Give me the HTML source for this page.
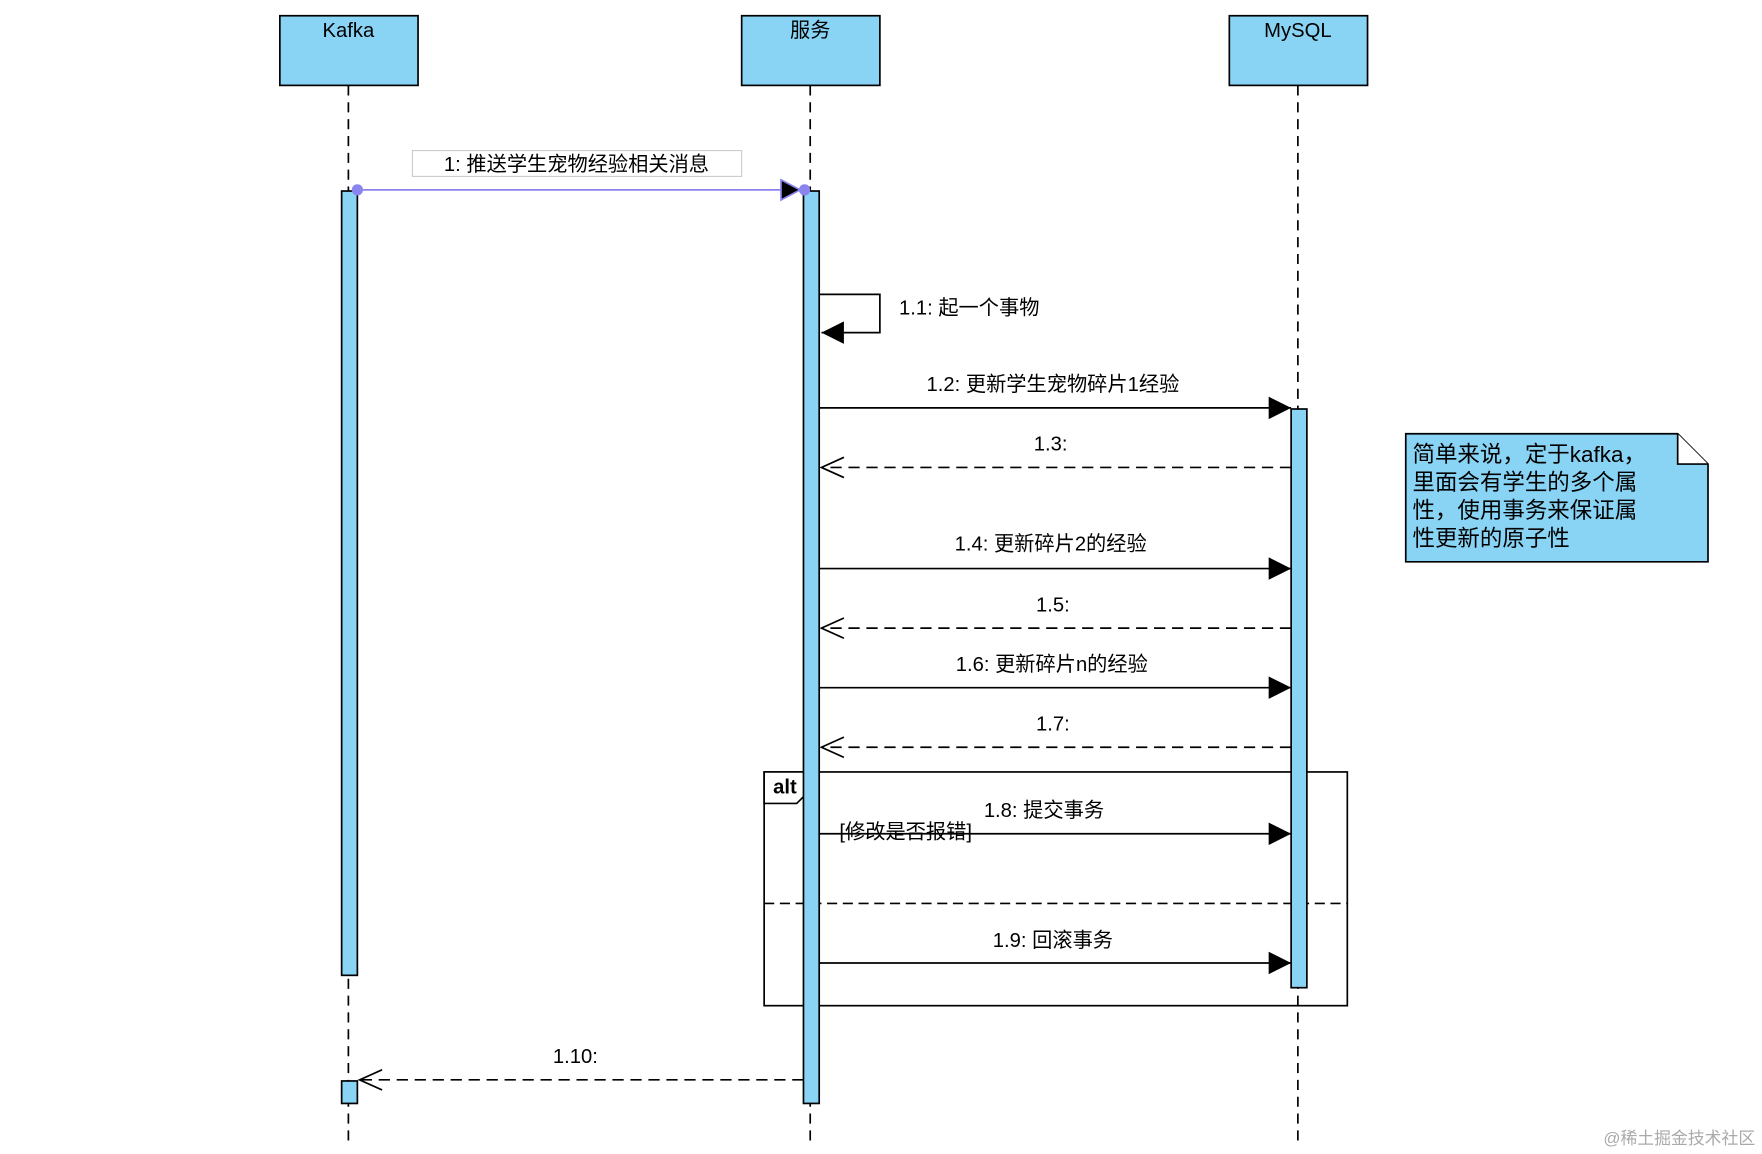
<!DOCTYPE html>
<html><head><meta charset="utf-8"><style>
html,body{margin:0;padding:0;background:#fff;}
svg{display:block;}
text{font-family:"Liberation Sans","Noto Sans CJK SC",sans-serif;fill:#000;}
</style></head><body>
<svg width="1762" height="1154" viewBox="0 0 1568 1027" xmlns="http://www.w3.org/2000/svg">
<defs>
<marker id="fa" markerWidth="22" markerHeight="22" refX="20" refY="10" orient="auto" markerUnits="userSpaceOnUse"><path d="M0,0 L20,10 L0,20 Z" fill="#000"/></marker>
<marker id="oa" markerWidth="24" markerHeight="22" refX="21" refY="10" orient="auto" markerUnits="userSpaceOnUse"><path d="M1,1 L21,10 L1,19" fill="none" stroke="#000" stroke-width="1.5"/></marker>
</defs>
<g stroke="#000" stroke-width="1.5" stroke-dasharray="9,6">
<line x1="310" y1="76" x2="310" y2="1018"/>
<line x1="721" y1="76" x2="721" y2="1018"/>
<line x1="1155" y1="76" x2="1155" y2="1018"/>
</g>
<g fill="#89d4f5" stroke="#000" stroke-width="1.5">
<rect x="249" y="14" width="123" height="62"/>
<rect x="660" y="14" width="123" height="62"/>
<rect x="1094" y="14" width="123" height="62"/>
</g>
<g font-size="18" text-anchor="middle">
<text x="310" y="33">Kafka</text>
<text x="721" y="33">服务</text>
<text x="1155" y="33">MySQL</text>
</g>
<rect x="680" y="687" width="519" height="208" fill="none" stroke="#000" stroke-width="1.5"/>
<line x1="680" y1="804" x2="1199" y2="804" stroke="#000" stroke-width="1.5" stroke-dasharray="9,5"/>
<path d="M680,687 L722,687 L722,702 L709,715 L680,715 Z" fill="#fff" stroke="#000" stroke-width="1.5"/>
<text x="688" y="706" font-size="18" font-weight="bold">alt</text>
<g fill="#89d4f5" stroke="#000" stroke-width="1.5">
<rect x="304" y="170" width="14" height="698"/>
<rect x="304" y="962" width="14" height="20"/>
<rect x="715" y="170" width="14" height="812"/>
<rect x="1149" y="364" width="14" height="515"/>
</g>
<rect x="367" y="134" width="293" height="23" fill="#fff" stroke="#ccc" stroke-width="1"/>
<text x="513" y="152" font-size="18" text-anchor="middle">1: 推送学生宠物经验相关消息</text>
<line x1="318" y1="169" x2="712" y2="169" stroke="#8a84ee" stroke-width="1.5"/>
<path d="M695,160 L712,169 L695,178 Z" fill="#000" stroke="#8a84ee" stroke-width="1.5"/>
<circle cx="318" cy="169" r="5" fill="#8a84ee"/>
<circle cx="716" cy="169" r="5" fill="#8a84ee"/>
<path d="M729,262 L783,262 L783,296 L731,296" fill="none" stroke="#000" stroke-width="1.5" marker-end="url(#fa)"/>
<text x="800" y="280" font-size="18">1.1: 起一个事物</text>
<g stroke="#000" stroke-width="1.5">
<line x1="729" y1="363" x2="1149" y2="363" marker-end="url(#fa)"/>
<line x1="1149" y1="416" x2="731" y2="416" stroke-dasharray="10,6" marker-end="url(#oa)"/>
<line x1="729" y1="506" x2="1149" y2="506" marker-end="url(#fa)"/>
<line x1="1149" y1="559" x2="731" y2="559" stroke-dasharray="10,6" marker-end="url(#oa)"/>
<line x1="729" y1="612" x2="1149" y2="612" marker-end="url(#fa)"/>
<line x1="1149" y1="665" x2="731" y2="665" stroke-dasharray="10,6" marker-end="url(#oa)"/>
<line x1="729" y1="742" x2="1149" y2="742" marker-end="url(#fa)"/>
<line x1="729" y1="857" x2="1149" y2="857" marker-end="url(#fa)"/>
<line x1="715" y1="961" x2="320" y2="961" stroke-dasharray="10,6" marker-end="url(#oa)"/>
</g>
<g font-size="18" text-anchor="middle">
<text x="937" y="348">1.2: 更新学生宠物碎片1经验</text>
<text x="935" y="401">1.3:</text>
<text x="935" y="490">1.4: 更新碎片2的经验</text>
<text x="937" y="544">1.5:</text>
<text x="936" y="597">1.6: 更新碎片n的经验</text>
<text x="937" y="650">1.7:</text>
<text x="929" y="727">1.8: 提交事务</text>
<text x="937" y="843">1.9: 回滚事务</text>
<text x="512" y="946">1.10:</text>
</g>
<text x="747" y="746" font-size="18">[修改是否报错]</text>
<path d="M1251,386 L1493,386 L1520,413 L1520,500 L1251,500 Z" fill="#89d4f5" stroke="#000" stroke-width="1.5"/>
<path d="M1493,386 L1493,413 L1520,413" fill="#fff" stroke="#000" stroke-width="1.5"/>
<g font-size="20">
<text x="1257" y="411">简单来说，定于kafka，</text>
<text x="1257" y="436">里面会有学生的多个属</text>
<text x="1257" y="461">性，使用事务来保证属</text>
<text x="1257" y="486">性更新的原子性</text>
</g>
<text x="1562" y="1018" font-size="15" text-anchor="end" style="fill:#aaa">@稀土掘金技术社区</text>
</svg>
</body></html>
